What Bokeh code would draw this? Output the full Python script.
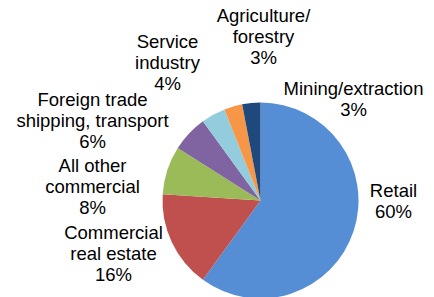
import math
from bokeh.plotting import figure
from bokeh.models import Range1d, ColumnDataSource
from bokeh.core.properties import value
from bokeh.embed import file_html
from bokeh.resources import INLINE

# ---- data ----
categories = ["Retail", "Commercial\nreal estate", "All other\ncommercial",
              "Foreign trade\nshipping, transport", "Service\nindustry",
              "Agriculture/\nforestry", "Mining/extraction"]
shares = [60, 16, 8, 6, 4, 3, 3]
colors = ["#558ED5", "#C0504D", "#9BBB59", "#8064A2", "#93CDDD", "#F79646", "#1F497D"]

# ---- layout (pixels of the 434x297 chart) ----
W, H = 434, 297
cx_s, cy_s, R = 260, 200, 98
label_pos = [(393, 190), (113, 232), (92, 165), (92, 99), (167, 41), (263, 15), (353, 88)]
LINE_H = 21

def sx(x):
    return x

def sy(y):
    return H - y

p = figure(width=W, height=H, output_backend="svg", toolbar_location=None,
           x_range=Range1d(0, W), y_range=Range1d(0, H), min_border=0)
p.axis.visible = False
p.grid.visible = False
p.outline_line_color = None
p.background_fill_color = "white"
p.border_fill_color = "white"

total = float(sum(shares))
starts, ends = [], []
cum = 0.0
for s in shares:
    starts.append(math.pi / 2 - 2 * math.pi * cum / total)
    cum += s
    ends.append(math.pi / 2 - 2 * math.pi * cum / total)

src = ColumnDataSource(dict(x=[sx(cx_s)] * len(shares), y=[sy(cy_s)] * len(shares),
                            start=starts, end=ends, color=colors))
p.wedge(x="x", y="y", radius=R, start_angle="start", end_angle="end",
        direction="clock", fill_color="color", line_color=None, source=src)

tx, ty, tt = [], [], []
for name, val, (lx, ly) in zip(categories, shares, label_pos):
    lines = name.split("\n") + [f"{val}%"]
    for i, ln in enumerate(lines):
        tx.append(sx(lx))
        ty.append(sy(ly + i * LINE_H))
        tt.append(ln)

p.text(x=tx, y=ty, text=tt, text_align="center", text_baseline="middle",
       text_font=value("Liberation Sans"), text_font_size="18.5px", text_color="#000000")

open("out.html", "w").write(file_html(p, INLINE))
